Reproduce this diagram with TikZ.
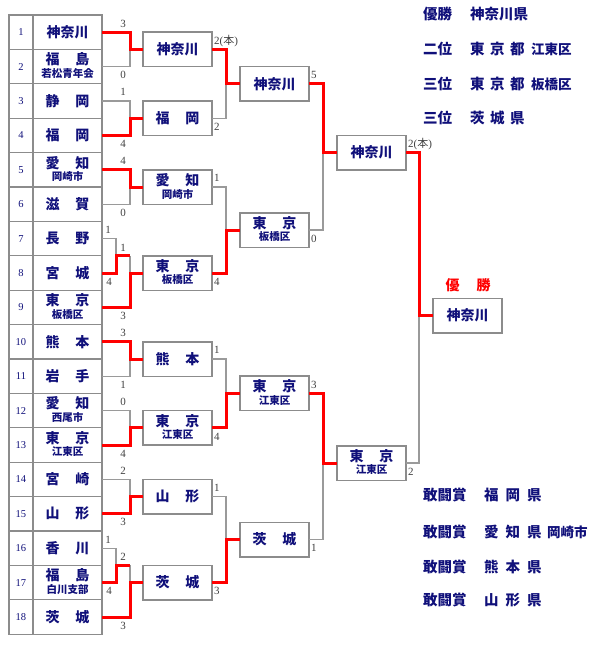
\documentclass[tikz,border=0pt]{standalone}
\usepackage{fontspec}
\setmainfont{Liberation Serif}
\newfontfamily\jp{Noto Sans CJK JP}
\definecolor{navyblue}{HTML}{10107A}
\definecolor{framegray}{HTML}{8C8C8C}
\definecolor{wiregray}{HTML}{9A9A9A}
\definecolor{winred}{HTML}{FF0000}
\newcommand\spr[2]{\makebox[44pt][s]{#1\hfill #2}}
\begin{document}
\begin{tikzpicture}[x=1pt,y=-1pt,
  cellbox/.style={draw=framegray,line width=1.3pt,minimum height=34.4pt,inner sep=0pt,outer sep=0pt},
  numcell/.style={cellbox,minimum width=24pt,text=navyblue,font=\fontsize{10.5}{10.5}\selectfont},
  teamcell/.style={cellbox,minimum width=69pt,text=navyblue,font=\jp\bfseries\fontsize{14}{14}\selectfont},
  tbox/.style={draw=framegray,line width=1.5pt,fill=white,minimum width=69pt,minimum height=34.5pt,inner sep=0pt,outer sep=0pt,text=navyblue,font=\jp\bfseries\fontsize{14}{14}\selectfont},
  bigtxt/.style={text=navyblue,font=\jp\bfseries\fontsize{14}{14}\selectfont,inner sep=0pt},
  subtxt/.style={text=navyblue,font=\jp\bfseries\fontsize{10.5}{10.5}\selectfont,inner sep=0pt},
  sidetxt/.style={text=navyblue,font=\jp\bfseries\fontsize{14.5}{14.5}\selectfont,inner sep=0pt,anchor=west},
  sidesub/.style={text=navyblue,font=\jp\bfseries\fontsize{13.5}{13.5}\selectfont,inner sep=0pt,anchor=west},
  loseline/.style={draw=wiregray,line width=1.2pt},
  winline/.style={draw=winred,line width=3pt},
  scoretxt/.style={text=black!75,font=\fontsize{11}{11}\selectfont,inner sep=0pt,anchor=base},
  topscore/.style={scoretxt,anchor=base west,xshift=2pt,yshift=-12pt},
  botscore/.style={scoretxt,anchor=base west,xshift=2pt,yshift=5pt},
]
\useasboundingbox (0,0) rectangle (600,650);

% ---------- left table ----------
\foreach \i/\y in {1/32.2,2/66.6,3/101.0,4/135.4,5/169.8,6/204.2,7/238.6,8/273.0,9/307.4,
                   10/341.8,11/376.2,12/410.6,13/445.0,14/479.4,15/513.8,16/548.2,17/582.6,18/617.0}
  \node[numcell] (n\i) at (21,\y) {\i};

\node[teamcell] (t1) at (67.5,32.2) {神奈川};
\node[teamcell] (t2) at (67.5,66.6) {};
\node[bigtxt] (t2a) at ([yshift=7pt]t2.center) {\spr{福}{島}};
\node[subtxt] (t2b) at ([yshift=-7pt]t2.center) {若松青年会};
\node[teamcell] (t3) at (67.5,101.0) {\spr{静}{岡}};
\node[teamcell] (t4) at (67.5,135.4) {\spr{福}{岡}};
\node[teamcell] (t5) at (67.5,169.8) {};
\node[bigtxt] (t5a) at ([yshift=7pt]t5.center) {\spr{愛}{知}};
\node[subtxt] (t5b) at ([yshift=-7pt]t5.center) {岡崎市};
\node[teamcell] (t6) at (67.5,204.2) {\spr{滋}{賀}};
\node[teamcell] (t7) at (67.5,238.6) {\spr{長}{野}};
\node[teamcell] (t8) at (67.5,273.0) {\spr{宮}{城}};
\node[teamcell] (t9) at (67.5,307.4) {};
\node[bigtxt] (t9a) at ([yshift=7pt]t9.center) {\spr{東}{京}};
\node[subtxt] (t9b) at ([yshift=-7pt]t9.center) {板橋区};
\node[teamcell] (t10) at (67.5,341.8) {\spr{熊}{本}};
\node[teamcell] (t11) at (67.5,376.2) {\spr{岩}{手}};
\node[teamcell] (t12) at (67.5,410.6) {};
\node[bigtxt] (t12a) at ([yshift=7pt]t12.center) {\spr{愛}{知}};
\node[subtxt] (t12b) at ([yshift=-7pt]t12.center) {西尾市};
\node[teamcell] (t13) at (67.5,445.0) {};
\node[bigtxt] (t13a) at ([yshift=7pt]t13.center) {\spr{東}{京}};
\node[subtxt] (t13b) at ([yshift=-7pt]t13.center) {江東区};
\node[teamcell] (t14) at (67.5,479.4) {\spr{宮}{崎}};
\node[teamcell] (t15) at (67.5,513.8) {\spr{山}{形}};
\node[teamcell] (t16) at (67.5,548.2) {\spr{香}{川}};
\node[teamcell] (t17) at (67.5,582.6) {};
\node[bigtxt] (t17a) at ([yshift=7pt]t17.center) {\spr{福}{島}};
\node[subtxt] (t17b) at ([yshift=-7pt]t17.center) {白川支部};
\node[teamcell] (t18) at (67.5,617.0) {\spr{茨}{城}};

% ---------- round 2 boxes ----------
\node[tbox] (A) at (177.5,49.4) {神奈川};
\node[tbox] (B) at (177.5,118.2) {\spr{福}{岡}};
\node[tbox] (C) at (177.5,187.0) {};
\node[bigtxt] (Ca) at ([yshift=7pt]C.center) {\spr{愛}{知}};
\node[subtxt] (Cb) at ([yshift=-7pt]C.center) {岡崎市};
\node[tbox] (D) at (177.5,273.0) {};
\node[bigtxt] (Da) at ([yshift=7pt]D.center) {\spr{東}{京}};
\node[subtxt] (Db) at ([yshift=-7pt]D.center) {板橋区};
\node[tbox] (E) at (177.5,359.0) {\spr{熊}{本}};
\node[tbox] (F) at (177.5,427.8) {};
\node[bigtxt] (Fa) at ([yshift=7pt]F.center) {\spr{東}{京}};
\node[subtxt] (Fb) at ([yshift=-7pt]F.center) {江東区};
\node[tbox] (G) at (177.5,496.6) {\spr{山}{形}};
\node[tbox] (H) at (177.5,582.6) {\spr{茨}{城}};

% ---------- round 3 boxes ----------
\node[tbox] (P1) at (274.5,84.0) {神奈川};
\node[tbox] (P2) at (274.5,230.0) {};
\node[bigtxt] (P2a) at ([yshift=7pt]P2.center) {\spr{東}{京}};
\node[subtxt] (P2b) at ([yshift=-7pt]P2.center) {板橋区};
\node[tbox] (P3) at (274.5,393.4) {};
\node[bigtxt] (P3a) at ([yshift=7pt]P3.center) {\spr{東}{京}};
\node[subtxt] (P3b) at ([yshift=-7pt]P3.center) {江東区};
\node[tbox] (P4) at (274.5,539.6) {\spr{茨}{城}};

% ---------- round 4 boxes ----------
\node[tbox] (Q1) at (371.5,152.7) {神奈川};
\node[tbox] (Q2) at (371.5,463.0) {};
\node[bigtxt] (Q2a) at ([yshift=7pt]Q2.center) {\spr{東}{京}};
\node[subtxt] (Q2b) at ([yshift=-7pt]Q2.center) {江東区};

% ---------- final ----------
\node[tbox] (W) at (467.5,315.6) {神奈川};
\node[text=winred,font=\jp\bfseries\fontsize{14}{14}\selectfont,inner sep=0pt] (Wl) at (468,285.7) {\makebox[45pt][s]{優\hfill 勝}};

% ---------- connectors: losers (gray) ----------
\coordinate (w78) at (130,255.8);
\coordinate (w1617) at (130,565.4);
\draw[loseline] (t2.east) -- ++(28,0) |- (A.west);
\draw[loseline] (t3.east) -- ++(28,0) |- (B.west);
\draw[loseline] (t6.east) -- ++(28,0) |- (C.west);
\draw[loseline] (t7.east) -- ++(14,0) |- (w78);
\draw[loseline] (w78) |- (D.west);
\draw[loseline] (t11.east) -- ++(28,0) |- (E.west);
\draw[loseline] (t12.east) -- ++(28,0) |- (F.west);
\draw[loseline] (t14.east) -- ++(28,0) |- (G.west);
\draw[loseline] (t16.east) -- ++(14,0) |- (w1617);
\draw[loseline] (w1617) |- (H.west);
\draw[loseline] (B.east) -- ++(14,0) |- (P1.west);
\draw[loseline] (C.east) -- ++(14,0) |- (P2.west);
\draw[loseline] (E.east) -- ++(14,0) |- (P3.west);
\draw[loseline] (G.east) -- ++(14,0) |- (P4.west);
\draw[loseline] (P2.east) -- ++(14,0) |- (Q1.west);
\draw[loseline] (P4.east) -- ++(14,0) |- (Q2.west);
\draw[loseline] (Q2.east) -- ++(13,0) |- (W.west);

% ---------- connectors: winners (red) ----------
\draw[winline] (t1.east) -- ++(28,0) |- (A.west);
\draw[winline] (t4.east) -- ++(28,0) |- (B.west);
\draw[winline] (t5.east) -- ++(28,0) |- (C.west);
\draw[winline] (t8.east) -- ++(14,0) |- (w78);
\draw[winline] (t9.east) -- ++(28,0) |- (D.west);
\draw[winline] (t10.east) -- ++(28,0) |- (E.west);
\draw[winline] (t13.east) -- ++(28,0) |- (F.west);
\draw[winline] (t15.east) -- ++(28,0) |- (G.west);
\draw[winline] (t17.east) -- ++(14,0) |- (w1617);
\draw[winline] (t18.east) -- ++(28,0) |- (H.west);
\draw[winline] (A.east) -- ++(14,0) |- (P1.west);
\draw[winline] (D.east) -- ++(14,0) |- (P2.west);
\draw[winline] (F.east) -- ++(14,0) |- (P3.west);
\draw[winline] (H.east) -- ++(14,0) |- (P4.west);
\draw[winline] (P1.east) -- ++(14,0) |- (Q1.west);
\draw[winline] (P3.east) -- ++(14,0) |- (Q2.west);
\draw[winline] (Q1.east) -- ++(13,0) |- (W.west);

% ---------- round 1 scores ----------
\foreach \k/\x/\y/\s in {1/123/27.2/3, 2/123/79/0, 3/123/96/1, 4/123/147.4/4,
    5/123/164.8/4, 6/123/216.2/0, 7/108/233.6/1, 8/109/285/4, 9/123/251/1, 10/123/319.4/3,
    11/123/336.8/3, 12/123/388.2/1, 13/123/405.6/0, 14/123/457/4, 15/123/474.4/2,
    16/123/525.8/3, 17/108/543.2/1, 18/109/594.6/4, 19/123/560.4/2, 20/123/629/3}
  \node[scoretxt] (r\k) at (\x,\y) {\s};

% ---------- later scores ----------
\node[topscore] (sA) at (A.north east) {2({\jp 本})};
\node[botscore] (sB) at (B.south east) {2};
\node[topscore] (sC) at (C.north east) {1};
\node[botscore] (sD) at (D.south east) {4};
\node[topscore] (sE) at (E.north east) {1};
\node[botscore] (sF) at (F.south east) {4};
\node[topscore] (sG) at (G.north east) {1};
\node[botscore] (sH) at (H.south east) {3};
\node[topscore] (sP1) at (P1.north east) {5};
\node[botscore] (sP2) at (P2.south east) {0};
\node[topscore] (sP3) at (P3.north east) {3};
\node[botscore] (sP4) at (P4.south east) {1};
\node[topscore] (sQ1) at (Q1.north east) {2({\jp 本})};
\node[botscore] (sQ2) at (Q2.south east) {2};

% ---------- results text ----------
\node[sidetxt] (o1a) at (423,14) {優勝};
\node[sidetxt] (o1b) at (470,14) {神奈川県};
\node[sidetxt] (o2a) at (423,49) {二位};
\node[sidetxt] (o2b) at (470,49) {東\hspace{5.5pt}京\hspace{5.5pt}都};
\node[sidesub] (o2c) at (531,49) {江東区};
\node[sidetxt] (o3a) at (423,84) {三位};
\node[sidetxt] (o3b) at (470,84) {東\hspace{5.5pt}京\hspace{5.5pt}都};
\node[sidesub] (o3c) at (531,84) {板橋区};
\node[sidetxt] (o4a) at (423,118) {三位};
\node[sidetxt] (o4b) at (470,118) {茨\hspace{5.5pt}城\hspace{5.5pt}県};

\node[sidetxt] (k1a) at (423,495) {敢闘賞};
\node[sidetxt] (k1b) at (484,495) {福\hspace{7pt}岡\hspace{7pt}県};
\node[sidetxt] (k2a) at (423,532) {敢闘賞};
\node[sidetxt] (k2b) at (484,532) {愛\hspace{7pt}知\hspace{7pt}県};
\node[sidesub] (k2c) at (547,532) {岡崎市};
\node[sidetxt] (k3a) at (423,567) {敢闘賞};
\node[sidetxt] (k3b) at (484,567) {熊\hspace{7pt}本\hspace{7pt}県};
\node[sidetxt] (k4a) at (423,600) {敢闘賞};
\node[sidetxt] (k4b) at (484,600) {山\hspace{7pt}形\hspace{7pt}県};
\end{tikzpicture}
\end{document}
